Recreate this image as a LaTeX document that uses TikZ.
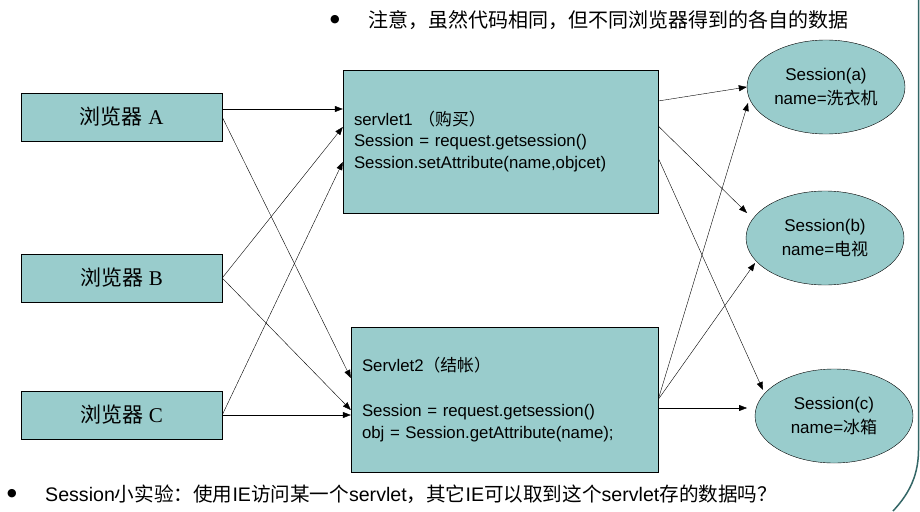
\documentclass[tikz,border=0pt]{standalone}
\usepackage{fontspec}
\setmainfont{Liberation Sans}
\newfontfamily\cjk{Noto Sans CJK SC}
\newfontfamily\tnr{Liberation Serif}
\newfontfamily\sym{DejaVu Sans}
\usetikzlibrary{shapes.geometric,arrows.meta,calc}

\definecolor{boxteal}{RGB}{153,204,204}
\definecolor{edgeteal}{RGB}{51,102,102}

\tikzset{
  browser/.style={draw,fill=boxteal,minimum width=201pt,minimum height=48pt,inner sep=0pt,
    font=\fontsize{21}{25}\selectfont},
  servlet/.style={draw,fill=boxteal,align=left,inner xsep=11pt,
    font=\fontsize{16.8}{21.5}\selectfont},
  session/.style={ellipse,draw,fill=boxteal,inner sep=0pt,align=center,
    minimum width=158pt,minimum height=94pt,font=\fontsize{17}{24}\selectfont},
  link/.style={-{Triangle[length=8pt,width=6pt]},thin}
}

\begin{document}
\begin{tikzpicture}[x=1pt,y=-1pt]
  \useasboundingbox (0,0) rectangle (920,511);

  % browsers
  \node[browser] (bA) at (121.5,117) {{\cjk 浏览器} {\tnr A}};
  \node[browser] (bB) at (121.5,278) {{\cjk 浏览器} {\tnr B}};
  \node[browser] (bC) at (121.5,415) {{\cjk 浏览器} {\tnr C}};

  % servlets
  \node[servlet,text width=293pt,minimum height=143pt] (s1) at (500.5,141.5)
    {servlet1 {\cjk （购买）}\\Session = request.getsession()\\Session.setAttribute(name,objcet)};
  \node[servlet,text width=285pt,minimum height=145pt,
    font=\fontsize{16.8}{22.5}\selectfont] (s2) at (504.5,399.5)
    {Servlet2{\cjk （结帐）}\\[22.5pt]Session = request.getsession()\\obj = Session.getAttribute(name);};

  % sessions
  \node[session] (ea) at (826,87) {Session(a)\\name={\cjk 洗衣机}};
  \node[session] (eb) at (825,238) {Session(b)\\name={\cjk 电视}};
  \node[session] (ec) at (834,416) {Session(c)\\name={\cjk 冰箱}};

  % browsers to servlets
  \draw[link] ($(bA.east)+(0,-8)$) -- ($(s1.west)+(0,-32.5)$);
  \draw[link] (bA.east) -- ($(s2.west)+(0,-21.5)$);
  \draw[link] (bB.east) -- ($(s1.west)+(0,-14.5)$);
  \draw[link] (bB.east) -- ($(s2.west)+(0,10.5)$);
  \draw[link] (bC.east) -- ($(s1.west)+(0,20.5)$);
  \draw[link] (bC.east) -- ($(s2.west)+(0,15.5)$);

  % servlets to sessions
  \draw[link] ($(s1.east)+(0,-40.5)$) -- (ea.west);
  \draw[link] ($(s1.east)+(0,-15.5)$) -- ($(eb.center)+(-78,-25)$);
  \draw[link] ($(s1.east)+(0,16.5)$) -- ($(ec.center)+(-71,-26)$);
  \draw[link] (s2.east) -- ($(ea.center)+(-78,16)$);
  \draw[link] (s2.east) -- ($(eb.center)+(-70,25)$);
  \draw[link] ($(s2.east)+(0,8.5)$) -- ($(ec.center)+(-87,-8)$);

  % notes
  \node[font=\sym\fontsize{11}{11}\selectfont] (dotTop) at (335,20) {●};
  \node[anchor=west,inner sep=0pt,font=\cjk\fontsize{20}{24}\selectfont] (noteTop) at (368,20)
    {注意，虽然代码相同，但不同浏览器得到的各自的数据};
  \node[font=\sym\fontsize{11}{11}\selectfont] (dotBot) at (12,494) {●};
  \node[anchor=west,inner sep=0pt,font=\fontsize{19.6}{22}\selectfont] (noteBot) at (45,494)
    {Session{\cjk 小实验：使用}IE{\cjk 访问某一个}servlet{\cjk ，其它}IE{\cjk 可以取到这个}servlet{\cjk 存的数据吗？}};

  % slide edge
  \draw[edgeteal,line width=1.5pt] (918.5,0) -- (918.5,450) .. controls (918.5,480) and (905,498) .. (893,511);
\end{tikzpicture}
\end{document}
